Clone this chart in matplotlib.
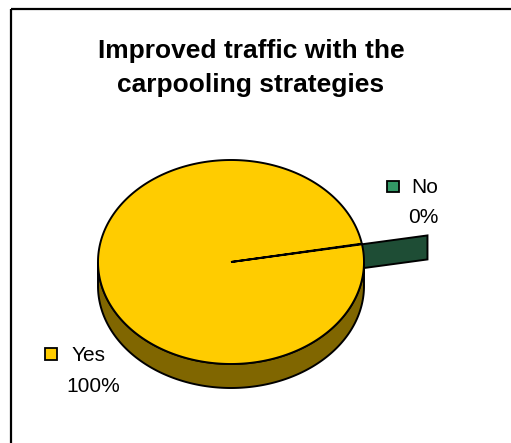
import numpy as np
import matplotlib.pyplot as plt
from matplotlib.patches import Polygon, Rectangle

plt.rcParams['font.family'] = ['Liberation Sans', 'DejaVu Sans']

title_lines = ["Improved traffic with the", "carpooling strategies"]
labels = ['Yes', 'No']
values = [99.9, 0.1]
pct_text = ['100%', '0%']
top_colors = ['#FFCC00', '#339966']
side_colors = ['#806600', '#1E4D35']

# pie layout (pixels)
cx, cy = 231, 262
rx, ry = 133, 102
depth = 24
start = 10.0      # angle where "No" slice begins
explode = 0.5


def pt(t, r=1.0, dz=0.0):
    t = np.radians(t)
    return (cx + rx * r * np.cos(t), cy - ry * r * np.sin(t) + dz)


fig = plt.figure(figsize=(5.11, 4.43), dpi=100)
ax = fig.add_axes([0, 0, 1, 1])
ax.set_xlim(0, 511)
ax.set_ylim(443, 0)
ax.axis('off')

# outer frame
ax.add_patch(Rectangle((11, 9), 530, 460, fill=False, lw=1.6, ec='black'))

total = sum(values)
no_span = 360.0 * values[1] / total

# exploded "No" slice: only its cut face shows
face = [pt(start, explode), pt(start, 1 + explode),
        pt(start, 1 + explode, depth), pt(start, explode, depth)]
ax.add_patch(Polygon(face, closed=True, fc=side_colors[1], ec='black', lw=1.4))

# "Yes" slice side wall (front half)
ts = np.linspace(180, 360, 200)
wall = [pt(t) for t in ts] + [pt(t, 1, depth) for t in ts[::-1]]
ax.add_patch(Polygon(wall, closed=True, fc=side_colors[0], ec='black', lw=1.4))

# "Yes" slice top face
ts = np.linspace(start + no_span, start + 360, 400)
top = [(cx, cy)] + [pt(t) for t in ts]
ax.add_patch(Polygon(top, closed=True, fc=top_colors[0], ec='black', lw=1.4))

# title
ax.text(251, 58, title_lines[0], ha='center', va='baseline', fontsize=19, fontweight='bold')
ax.text(251, 92, title_lines[1], ha='center', va='baseline', fontsize=19, fontweight='bold')

# data labels with legend keys
ax.add_patch(Rectangle((387, 181), 12, 11, fc=top_colors[1], ec='black', lw=1.3))
ax.text(411, 193, labels[1], ha='left', va='baseline', fontsize=15)
ax.text(423, 223, pct_text[1], ha='center', va='baseline', fontsize=15)

ax.add_patch(Rectangle((45, 348), 12, 12, fc=top_colors[0], ec='black', lw=1.3))
ax.text(72, 361, labels[0], ha='left', va='baseline', fontsize=15)
ax.text(93, 392, pct_text[0], ha='center', va='baseline', fontsize=15)

fig.savefig('out.png', dpi=100)
